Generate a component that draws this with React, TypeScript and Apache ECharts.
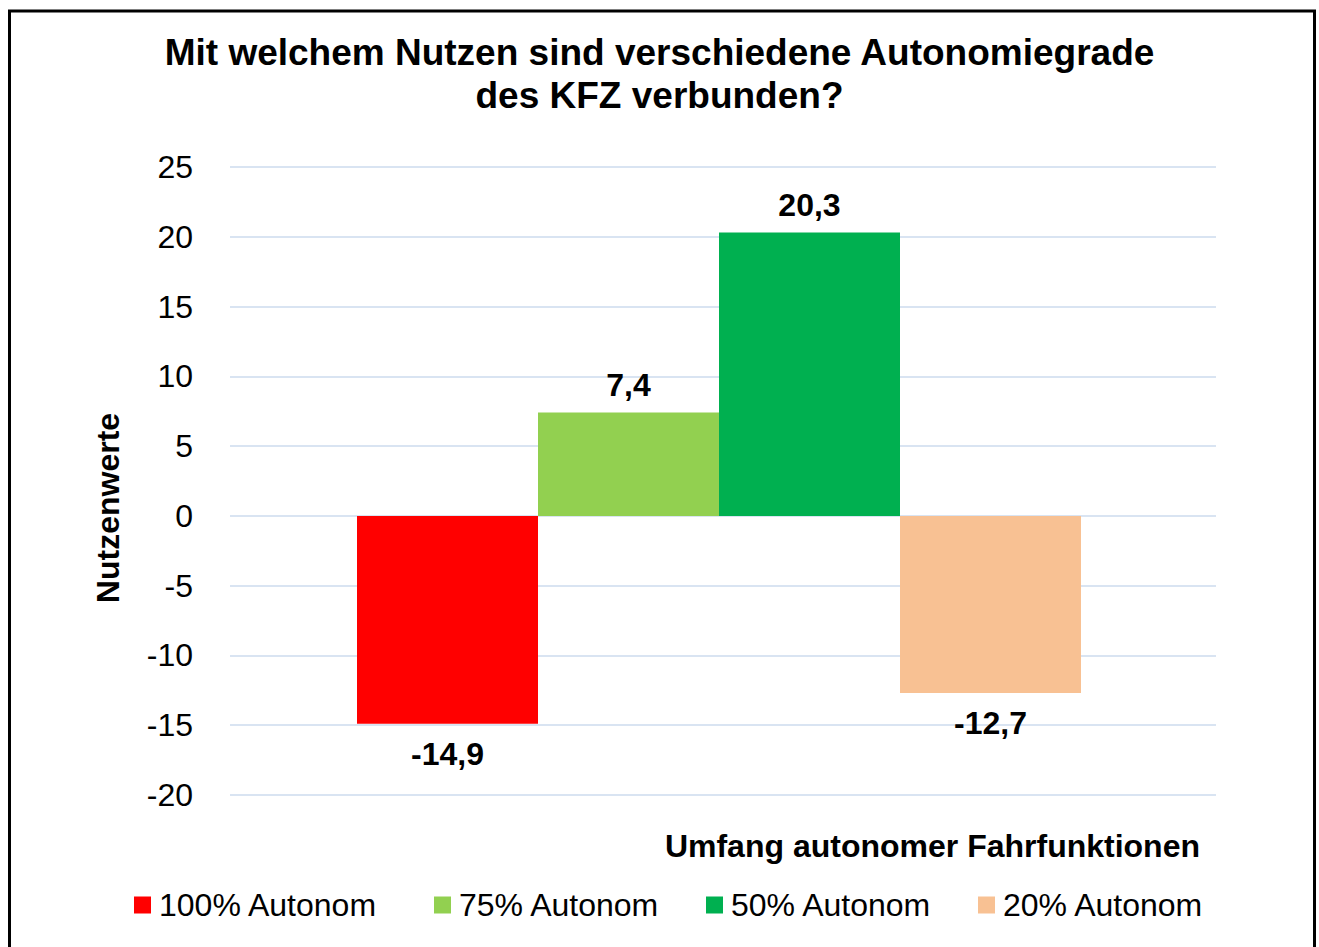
import React, { useEffect, useRef } from "react";
import * as echarts from "echarts";

const seriesNames = ["100% Autonom", "75% Autonom", "50% Autonom", "20% Autonom"];
const seriesValues = [-14.9, 7.4, 20.3, -12.7];
const seriesColors = ["#FF0000", "#92D050", "#00B050", "#F8C193"];
const categories = [""];
const yMin = -20;
const yMax = 25;
const yInterval = 5;

const FONT = "'Liberation Sans', Arial, sans-serif";
const legendLefts = [134, 434, 706, 978];

export default function App() {
  const ref = useRef<HTMLDivElement>(null);
  useEffect(() => {
    if (!ref.current) return;
    const chart = echarts.init(ref.current, undefined, { renderer: "svg" });
    const series = seriesNames.map((name, i) => ({
      name,
      type: "bar",
      xAxisIndex: 1,
      yAxisIndex: 1,
      barWidth: 181,
      barGap: "0%",
      itemStyle: { color: seriesColors[i] },
      label: {
        show: true,
        fontFamily: FONT,
        fontWeight: "bold",
        fontSize: 32,
        color: "#000",
        formatter: (p: any) => String(p.value).replace(".", ","),
      },
      data: [
        {
          value: seriesValues[i],
          label:
            seriesValues[i] < 0
              ? { position: "bottom", distance: 14 }
              : { position: "top", distance: 12 },
        },
      ],
    }));
    const hiddenCat = {
      type: "category",
      data: categories,
      axisLine: { show: false },
      axisTick: { show: false },
      axisLabel: { show: false },
    };
    chart.setOption({
      animation: false,
      backgroundColor: "#fff",
      textStyle: { fontFamily: FONT },
      title: {
        text: "Mit welchem Nutzen sind verschiedene Autonomiegrade\ndes KFZ verbunden?",
        left: "center",
        top: 31,
        padding: 0,
        textStyle: {
          fontFamily: FONT,
          fontWeight: "bold",
          fontSize: 37,
          lineHeight: 43,
          color: "#000",
        },
      },
      legend: seriesNames.map((name, i) => ({
        left: legendLefts[i],
        top: 889,
        padding: 0,
        itemWidth: 17,
        itemHeight: 17,
        icon: "rect",
        textStyle: { fontFamily: FONT, fontSize: 32, color: "#000", padding: [0, 0, 0, 3] },
        data: [name],
      })),
      grid: [
        { left: 230, right: 103, top: 167, bottom: 152 },
        { left: 222, right: 103, top: 167, bottom: 152 },
      ],
      xAxis: [
        { ...hiddenCat, gridIndex: 0 },
        { ...hiddenCat, gridIndex: 1 },
      ],
      yAxis: [
        {
          type: "value",
          gridIndex: 0,
          min: yMin,
          max: yMax,
          interval: yInterval,
          axisLine: { show: false },
          axisTick: { show: false },
          axisLabel: { fontFamily: FONT, fontSize: 32, color: "#000", margin: 37 },
          splitLine: { lineStyle: { color: "#D9E4F2", width: 2 } },
        },
        {
          type: "value",
          gridIndex: 1,
          min: yMin,
          max: yMax,
          interval: yInterval,
          show: false,
          splitLine: { show: false },
        },
      ],
      graphic: [
        {
          type: "rect",
          shape: { x: 9.5, y: 11, width: 1305, height: 1000 },
          style: { fill: "none", stroke: "#000", lineWidth: 3 },
          silent: true,
        },
        {
          type: "text",
          x: 108,
          y: 508,
          rotation: Math.PI / 2,
          style: {
            text: "Nutzenwerte",
            fontFamily: FONT,
            fontWeight: "bold",
            fontSize: 32,
            fill: "#000",
            textAlign: "center",
            textVerticalAlign: "middle",
          },
        },
        {
          type: "text",
          x: 1200,
          y: 846,
          style: {
            text: "Umfang autonomer Fahrfunktionen",
            fontFamily: FONT,
            fontWeight: "bold",
            fontSize: 32,
            fill: "#000",
            textAlign: "right",
            textVerticalAlign: "middle",
          },
        },
      ],
      series,
    });
    return () => chart.dispose();
  }, []);
  return (
    <div
      ref={ref}
      style={{ position: "fixed", left: 0, top: 0, width: 1319, height: 947 }}
    />
  );
}
